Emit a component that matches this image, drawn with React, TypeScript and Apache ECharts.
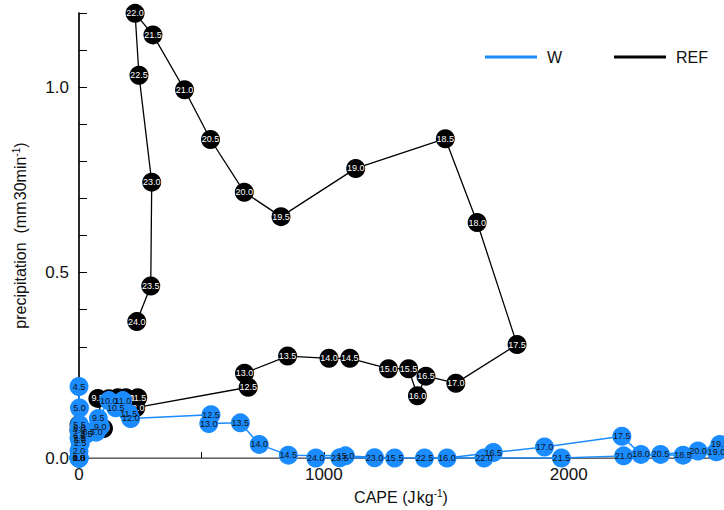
import React, { useEffect, useRef } from "react";
import * as echarts from "echarts";

// REF series: time label, CAPE (J kg-1), precipitation (mm 30min-1)
const refTime = [8.0, 8.5, 9.0, 9.5, 10.0, 10.5, 11.0, 11.5, 12.0, 12.5, 13.0, 13.5, 14.0, 14.5, 15.0, 15.5, 16.0, 16.5, 17.0, 17.5, 18.0, 18.5, 19.0, 19.5, 20.0, 20.5, 21.0, 21.5, 22.0, 22.5, 23.0, 23.5, 24.0];
const refCape = [0, 0, 100, 77, 122, 159, 191, 240, 232, 691, 676, 852, 1021, 1106, 1264, 1346, 1382, 1417, 1539, 1789, 1626, 1496, 1130, 825, 675, 537, 431, 302, 229, 245, 297, 293, 236];
const refPrecip = [0.075, 0.09, 0.08, 0.161, 0.16, 0.163, 0.163, 0.163, 0.136, 0.191, 0.229, 0.275, 0.269, 0.269, 0.241, 0.241, 0.168, 0.221, 0.202, 0.306, 0.635, 0.861, 0.781, 0.651, 0.717, 0.859, 0.993, 1.141, 1.199, 1.032, 0.744, 0.464, 0.368];

// W series
const wTime = [0.0, 0.5, 1.0, 1.5, 2.0, 2.5, 3.0, 3.5, 4.0, 4.5, 5.0, 5.5, 6.0, 6.5, 7.0, 7.5, 8.0, 8.5, 9.0, 9.5, 10.0, 10.5, 11.0, 11.5, 12.0, 12.5, 13.0, 13.5, 14.0, 14.5, 15.0, 15.5, 16.0, 16.5, 17.0, 17.5, 18.0, 18.5, 19.0, 19.5, 20.0, 20.5, 21.0, 21.5, 22.0, 22.5, 23.0, 23.5, 24.0];
const wCape = [0, 0, 0, 0, 0, 5, 3, 30, 0, 0, 2, 2, 2, 2, 70, 0, 0, 40, 87, 79, 122, 150, 179, 203, 211, 539, 530, 659, 736, 855, 1088, 1289, 1503, 1692, 1901, 2217, 2295, 2467, 2603, 2617, 2528, 2375, 2224, 1970, 1654, 1411, 1207, 1065, 967];
const wPrecip = [0, 0, 0, 0, 0.02, 0.04, 0.05, 0.065, 0.075, 0.193, 0.135, 0.09, 0.08, 0.06, 0.07, 0.055, 0, 0.07, 0.085, 0.107, 0.155, 0.136, 0.155, 0.12, 0.107, 0.117, 0.093, 0.095, 0.037, 0.008, 0.006, 0, 0, 0.015, 0.03, 0.059, 0.01, 0.008, 0.017, 0.037, 0.019, 0.01, 0.006, 0, 0, 0, 0.001, 0.001, 0];

const xTicks = [0, 1000, 2000];
const yTicks = [0.0, 0.5, 1.0];

const W_COLOR = "#1a8cff";
const REF_COLOR = "#000000";
const FONT = "Liberation Sans, Arial, Helvetica, sans-serif";

export default function App() {
  const ref = useRef<HTMLDivElement>(null);
  useEffect(() => {
    document.body.style.margin = "0";
    const chart = echarts.init(ref.current!, null, { renderer: "svg" });
    const refData = refTime.map((t, i) => [refCape[i], refPrecip[i], t.toFixed(1)]);
    const wData = wTime.map((t, i) => [wCape[i], wPrecip[i], t.toFixed(1)]);
    const xMax = 2630;
    chart.setOption({
      animation: false,
      textStyle: { fontFamily: FONT },
      grid: { left: 79, right: 1, top: 13, bottom: 47 },
      legend: [
        {
          data: [{ name: "W", icon: "rect" }],
          left: 485, top: 49, padding: 0,
          itemWidth: 52, itemHeight: 3,
          selectedMode: false,
          textStyle: { fontSize: 16, color: "#111", padding: [0, 0, 0, 5] },
        },
        {
          data: [{ name: "REF", icon: "rect" }],
          left: 614, top: 49, padding: 0,
          itemWidth: 52, itemHeight: 3,
          selectedMode: false,
          textStyle: { fontSize: 16, color: "#111", padding: [0, 0, 0, 5] },
        },
      ],
      xAxis: [
        {
          type: "value", min: 0, max: xMax, interval: 500,
          axisLine: { show: true, lineStyle: { color: "#000", width: 1 } },
          axisTick: { show: true, inside: true, length: 6, lineStyle: { color: "#000" } },
          axisLabel: {
            fontSize: 17, color: "#111", margin: 8, showMaxLabel: false,
            formatter: (v: number) => (xTicks.includes(Math.round(v)) ? String(Math.round(v)) : ""),
          },
          splitLine: { show: false },
          name: "{a|CAPE (J\u200akg}{s|-1}{a|)}",
          nameLocation: "middle", nameGap: 24,
          nameTextStyle: {
            color: "#111",
            rich: {
              a: { fontSize: 16, color: "#111" },
              s: { fontSize: 10, color: "#111", verticalAlign: "bottom", padding: [0, 0, 8, 0] },
            },
          },
        },
        {
          type: "value", position: "top", min: 0, max: xMax,
          axisLine: { show: true, lineStyle: { color: "#888", width: 1.5 } },
          axisTick: { show: false }, axisLabel: { show: false }, splitLine: { show: false },
        },
      ],
      yAxis: [
        {
          type: "value", min: 0, max: 1.2, interval: 0.1,
          axisLine: { show: true, lineStyle: { color: "#888", width: 1.5 } },
          axisTick: { show: true, inside: true, length: 8, lineStyle: { color: "#000" } },
          axisLabel: {
            fontSize: 17, color: "#111", margin: 10,
            formatter: (v: number) => {
              const r = Math.round(v * 10) / 10;
              return yTicks.some((t) => Math.abs(t - r) < 1e-6) ? r.toFixed(1) : "";
            },
          },
          splitLine: { show: false },
          name: "{a|precipitation  (mm\u200a30min}{s|-1}{a|)}",
          nameLocation: "middle", nameGap: 50,
          nameTextStyle: {
            color: "#111",
            rich: {
              a: { fontSize: 16, color: "#111" },
              s: { fontSize: 10, color: "#111", verticalAlign: "bottom", padding: [0, 0, 8, 0] },
            },
          },
        },
        {
          type: "value", position: "right", min: 0, max: 1.2,
          axisLine: { show: true, lineStyle: { color: "#000", width: 1.5 } },
          axisTick: { show: false }, axisLabel: { show: false }, splitLine: { show: false },
        },
      ],
      series: [
        {
          name: "REF", type: "line", data: refData,
          symbol: "circle", symbolSize: 19, showAllSymbol: true,
          itemStyle: { color: REF_COLOR },
          lineStyle: { color: REF_COLOR, width: 1.3 },
          label: {
            show: true, position: "inside", fontSize: 9, color: "#fff",
            formatter: (p: any) => p.value[2],
          },
          emphasis: { disabled: true },
          z: 2,
        },
        {
          name: "W", type: "line", data: wData,
          symbol: "circle", symbolSize: 19, showAllSymbol: true,
          itemStyle: { color: W_COLOR },
          lineStyle: { color: W_COLOR, width: 1.5 },
          label: {
            show: true, position: "inside", fontSize: 9, color: "#111",
            formatter: (p: any) => p.value[2],
          },
          emphasis: { disabled: true },
          z: 3,
        },
      ],
    });
    return () => chart.dispose();
  }, []);
  return <div ref={ref} style={{ width: 724, height: 510 }} />;
}
